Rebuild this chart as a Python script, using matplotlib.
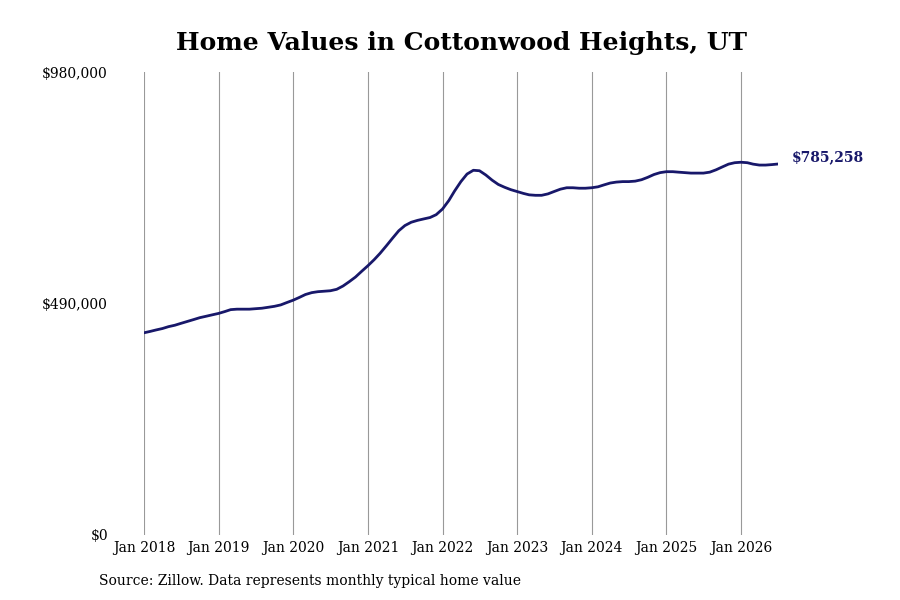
import numpy as np
import pandas as pd
import matplotlib
matplotlib.use("Agg")
import matplotlib.pyplot as plt

# monthly typical home value, thousands of dollars, Jan 2018 .. Jul 2026
values_k = [
    428, 431, 434, 437, 441, 444, 448, 452, 456, 460, 463, 466,
    469, 473, 477, 478, 478, 478, 479, 480, 482, 484, 487, 492,
    497, 503, 509, 513, 515, 516, 517, 520, 527, 536, 546, 558,
    570, 583, 596, 612, 628, 644, 655, 662, 666, 669, 672, 678,
    690, 708, 728, 748, 764, 772, 771, 762, 751, 742, 736, 731,
    727, 723, 720, 719, 719, 722, 727, 732, 735, 735, 734, 734,
    735, 737, 741, 745, 747, 748, 748, 749, 752, 757, 763, 767,
    769, 769, 768, 767, 766, 766, 766, 768, 773, 779, 785, 788,
    789, 788, 785, 783, 783, 784, 785.258,
]
dates = pd.date_range("2018-01-01", periods=len(values_k), freq="MS")
values = np.array(values_k) * 1000
last_label = "$785,258"

title = "Home Values in Cottonwood Heights, UT"
source = "Source: Zillow. Data represents monthly typical home value"
yticks = [0, 490000, 980000]
ytick_labels = ["$0", "$490,000", "$980,000"]
xtick_years = list(range(2018, 2027))

line_color = "#18186a"
plt.rcParams["font.family"] = ["DejaVu Serif"]

fig = plt.figure(figsize=(9, 6), dpi=100)
ax = fig.add_axes([144 / 900, 65 / 600, (778 - 144) / 900, (535 - 72) / 600])

ax.plot(dates, values, color=line_color, linewidth=2, solid_capstyle="round")
ax.set_xlim(dates[0], dates[-1])
ax.set_ylim(0, 980000)

ax.set_yticks(yticks)
ax.set_yticklabels(ytick_labels)
xt = [pd.Timestamp(f"{y}-01-01") for y in xtick_years]
ax.set_xticks(xt)
ax.set_xticklabels([f"Jan {y}" for y in xtick_years])

ax.tick_params(axis="y", length=0, pad=26, labelsize=10)
ax.tick_params(axis="x", length=0, pad=4, labelsize=10)
for s in ax.spines.values():
    s.set_visible(False)
ax.grid(axis="x", color="#999999", linewidth=0.8)
ax.set_axisbelow(True)

ax.annotate(last_label, xy=(dates[-1], values[-1]), xytext=(10, 5),
            textcoords="offset points", ha="left", va="center",
            fontsize=10, fontweight="bold", color=line_color,
            annotation_clip=False)

ax.set_title(title, fontsize=18, fontweight="bold", pad=16)
fig.text(99 / 900, 1 - 581 / 600, source, fontsize=10, ha="left", va="center")

fig.savefig("out.png", dpi=100)
